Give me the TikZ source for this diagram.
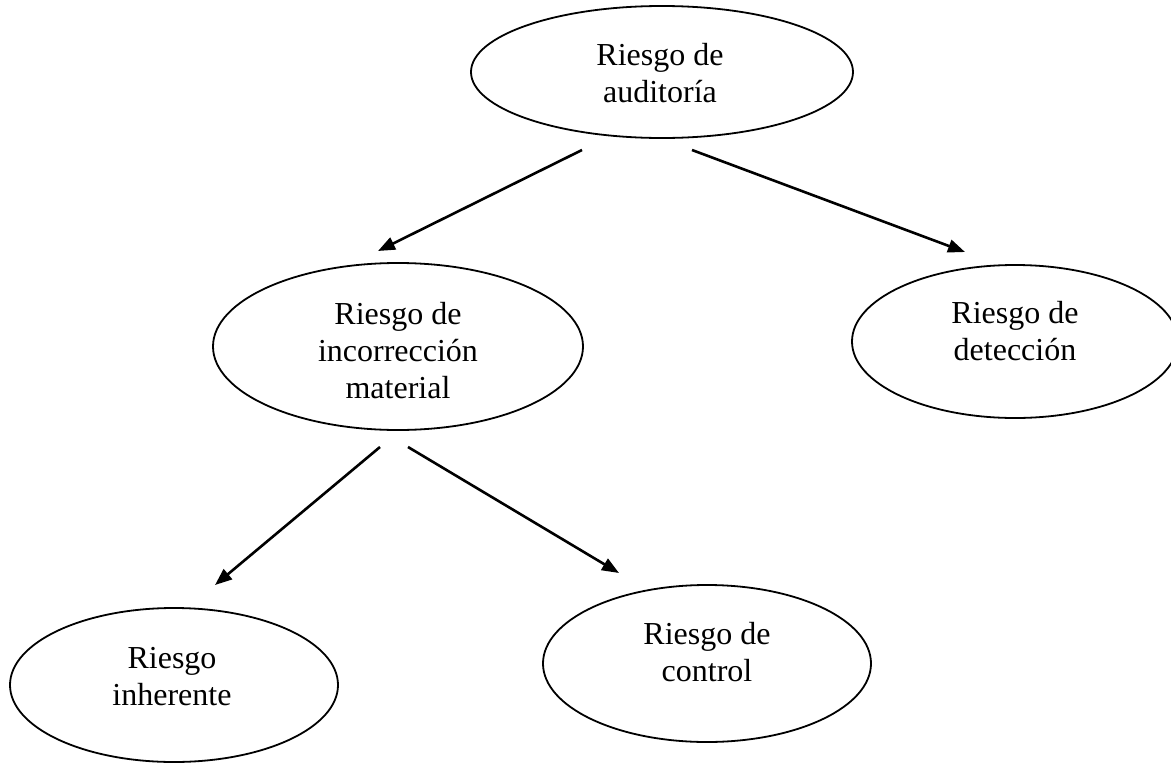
\documentclass[tikz,border=0pt]{standalone}
\usepackage{fontspec}
\setmainfont{Liberation Serif}
\usetikzlibrary{shapes.geometric,arrows.meta}
\begin{document}
\begin{tikzpicture}[x=1pt,y=-1pt,
  oval/.style={draw=black, line width=1.8pt, ellipse, inner sep=0pt, outer sep=0pt},
  lbl/.style={align=center, inner sep=0pt, font=\fontsize{32}{37}\selectfont},
  arr/.style={line width=2.6pt, -{Triangle[length=17pt,width=13pt]}}]
\useasboundingbox (0,0) rectangle (1171,763);
\fill[white] (0,0) rectangle (1171,763);
% ellipses
\node[oval, minimum width=382pt, minimum height=132pt] (eA) at (662,72) {};
\node[oval, minimum width=370pt, minimum height=167pt] (eM) at (398,346.5) {};
\node[oval, minimum width=326pt, minimum height=153pt] (eD) at (1015,341.5) {};
\node[oval, minimum width=328pt, minimum height=154pt] (eI) at (174,685) {};
\node[oval, minimum width=328pt, minimum height=157pt] (eC) at (707,663.5) {};
% texts
\node[lbl] (tA) at (660,73) {Riesgo de\\auditoría};
\node[lbl] (tM) at (398,350.5) {Riesgo de\\incorrección\\material};
\node[lbl] (tD) at (1015,331) {Riesgo de\\detección};
\node[lbl] (tI) at (172,676.5) {Riesgo\\inherente};
\node[lbl] (tC) at (707,652) {Riesgo de\\control};
% arrow end points
\coordinate (a1s) at (582,150);
\coordinate (a1e) at (378,251);
\coordinate (a2s) at (692,150);
\coordinate (a2e) at (965,252);
\coordinate (a3s) at (380,447);
\coordinate (a3e) at (215,585);
\coordinate (a4s) at (408,447);
\coordinate (a4e) at (619,573);
\draw[arr] (a1s) -- (a1e);
\draw[arr] (a2s) -- (a2e);
\draw[arr] (a3s) -- (a3e);
\draw[arr] (a4s) -- (a4e);
\end{tikzpicture}
\end{document}
